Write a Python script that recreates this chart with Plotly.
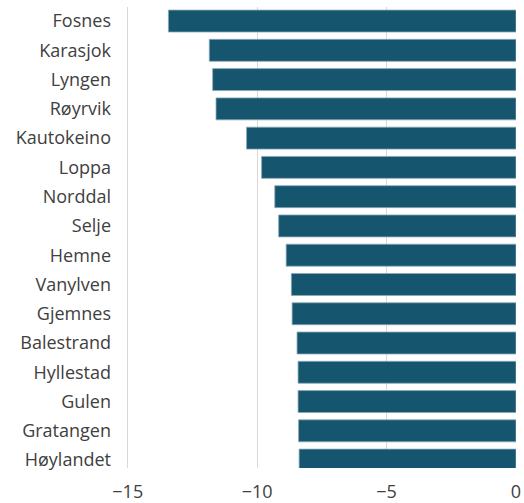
import plotly.graph_objects as go

categories = ["Fosnes", "Karasjok", "Lyngen", "Røyrvik", "Kautokeino", "Loppa", "Norddal",
              "Selje", "Hemne", "Vanylven", "Gjemnes", "Balestrand", "Hyllestad", "Gulen",
              "Gratangen", "Høylandet"]
values = [-13.43, -11.85, -11.72, -11.59, -10.41, -9.83, -9.32, -9.17, -8.88, -8.68, -8.65,
          -8.46, -8.42, -8.42, -8.40, -8.38]
tick_vals = [-15, -10, -5, 0]
tick_text = ["−15", "−10", "−5", "0"]

fig = go.Figure(go.Bar(
    y=categories, x=values, orientation="h",
    marker=dict(color="#15556e", line=dict(color="#8aa9b8", width=0.8)),
))
fig.update_layout(
    width=524, height=503,
    margin=dict(l=120, r=8, t=7, b=35),
    plot_bgcolor="white", paper_bgcolor="white",
    bargap=0.25,
    showlegend=False,
    font=dict(family="Open Sans, sans-serif", size=18, color="#404040"),
)
fig.update_xaxes(range=[-15.3, 0], tickvals=tick_vals, ticktext=tick_text,
                 showgrid=True, gridcolor="#d9d9d9", gridwidth=1, zeroline=False,
                 showline=False, ticks="", automargin=False, ticklabelstandoff=11)
fig.update_yaxes(range=[15.27, -0.48], showgrid=False, showline=False, ticks="",
                 ticklabelstandoff=8, automargin=False)
fig.write_html("out.html", config={"displayModeBar": False},
               post_script="document.body.style.margin='0';document.body.style.overflow='hidden';")
